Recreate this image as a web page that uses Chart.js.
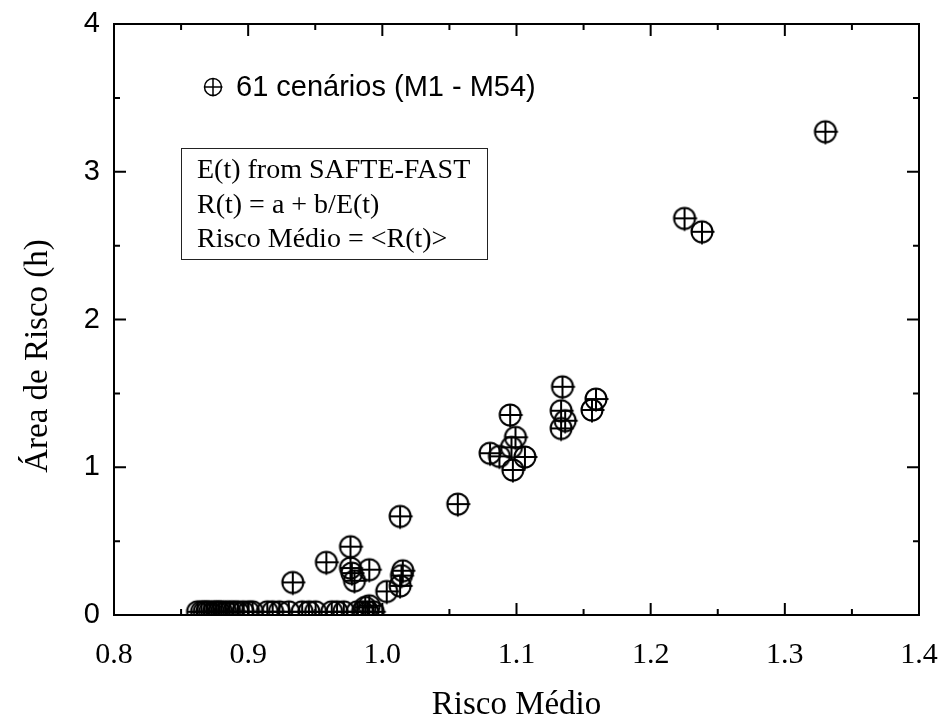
<!DOCTYPE html>
<html>
<head>
<meta charset="utf-8">
<script src="https://cdn.jsdelivr.net/npm/chart.js@4.4.1/dist/chart.umd.min.js"></script>
<style>
  html, body { margin: 0; padding: 0; background: #fff; }
</style>
</head>
<body>
<canvas id="chart-scatter" width="944" height="727"></canvas>
<script>
/* Risco Medio vs Area de Risco */
var riscoMedio = [
    1.331, 1.226, 1.239,
    1.135, 1.134, 1.137, 1.134, 1.160, 1.157,
    1.096, 1.100, 1.097, 1.081, 1.088, 1.107, 1.098, 1.057,
    1.014, 0.977, 0.959, 0.934, 0.977, 0.978, 0.980, 0.991, 1.004, 1.016, 1.015, 1.014, 0.991, 0.988,
    0.863, 0.866, 0.868, 0.870, 0.872, 0.875, 0.877, 0.879, 0.881, 0.884,
    0.887, 0.890, 0.893, 0.897, 0.901, 0.904, 0.915, 0.919, 0.924, 0.931,
    0.941, 0.946, 0.951, 0.963, 0.967, 0.972, 0.982, 0.986, 0.990, 0.994
];
var areaRisco = [
    3.264, 2.678, 2.587,
    1.538, 1.376, 1.308, 1.256, 1.455, 1.381,
    1.347, 1.196, 1.128, 1.088, 1.067, 1.063, 0.975, 0.744,
    0.661, 0.456, 0.350, 0.214, 0.311, 0.277, 0.225, 0.300, 0.153, 0.293, 0.260, 0.190, 0.056, 0.045,
    0.015, 0.015, 0.015, 0.015, 0.015, 0.015, 0.015, 0.015, 0.015, 0.015,
    0.015, 0.015, 0.015, 0.015, 0.015, 0.015, 0.015, 0.015, 0.015, 0.015,
    0.015, 0.015, 0.015, 0.015, 0.015, 0.015, 0.015, 0.015, 0.015, 0.015
];
var xTickLabels = ['0.8', '0.9', '1.0', '1.1', '1.2', '1.3', '1.4'];
var yTickLabels = ['0', '1', '2', '3', '4'];
var xTitle = 'Risco Médio';
var yTitle = 'Área de Risco (h)';
var legendLabel = '61 cenários (M1 - M54)';
var noteLines = ['E(t) from SAFTE-FAST', 'R(t) = a + b/E(t)', 'Risco Médio = <R(t)>'];

var serif = '"Liberation Serif", "Times New Roman", serif';
var sans = '"Liberation Sans", Arial, sans-serif';

function drawCrossCircle(ctx, cx, cy, r, ext, lw) {
    ctx.save();
    ctx.strokeStyle = '#000';
    ctx.lineWidth = lw;
    ctx.beginPath();
    ctx.arc(cx, cy, r, 0, Math.PI * 2);
    ctx.moveTo(cx - r, cy);
    ctx.lineTo(cx + r + ext, cy);
    ctx.moveTo(cx, cy - r);
    ctx.lineTo(cx, cy + r + ext);
    ctx.stroke();
    ctx.restore();
}

var marker = document.createElement('canvas');
marker.width = 30;
marker.height = 30;
drawCrossCircle(marker.getContext('2d'), 14, 14, 10.5, 2, 2);

var points = riscoMedio.map(function (x, i) { return {x: x, y: areaRisco[i]}; });

function noScalePadding(scale) {
    scale.paddingLeft = 0;
    scale.paddingRight = 0;
    scale.paddingTop = 0;
    scale.paddingBottom = 0;
}

var framePlugin = {
    id: 'frame',
    afterDatasetsDraw: function (chart) {
        var ctx = chart.ctx, a = chart.chartArea;
        var xs = chart.scales.x, ys = chart.scales.y;
        ctx.save();
        ctx.strokeStyle = '#000';
        ctx.lineWidth = 2;
        ctx.strokeRect(a.left, a.top, a.right - a.left, a.bottom - a.top);
        ctx.beginPath();
        var i, v, p, len;
        for (i = 0; i <= 12; i++) {
            v = 0.8 + i * 0.05;
            p = xs.getPixelForValue(v);
            len = (i % 2 === 0) ? 12 : 6;
            ctx.moveTo(p, a.bottom); ctx.lineTo(p, a.bottom - len);
            ctx.moveTo(p, a.top); ctx.lineTo(p, a.top + len);
        }
        for (i = 0; i <= 8; i++) {
            v = i * 0.5;
            p = ys.getPixelForValue(v);
            len = (i % 2 === 0) ? 12 : 6;
            ctx.moveTo(a.left, p); ctx.lineTo(a.left + len, p);
            ctx.moveTo(a.right, p); ctx.lineTo(a.right - len, p);
        }
        ctx.stroke();

        // y axis title
        ctx.fillStyle = '#000';
        ctx.save();
        ctx.translate(38, 356);
        ctx.rotate(-Math.PI / 2);
        ctx.font = '33px ' + serif;
        ctx.textAlign = 'center';
        ctx.textBaseline = 'middle';
        ctx.fillText(yTitle, 0, 0);
        ctx.restore();

        // legend
        drawCrossCircle(ctx, 213, 87, 8.5, 1, 1.5);
        ctx.font = '29px ' + sans;
        ctx.textBaseline = 'middle';
        ctx.textAlign = 'left';
        ctx.fillText(legendLabel, 236, 88);

        // note box
        ctx.lineWidth = 1;
        ctx.strokeStyle = '#222';
        ctx.strokeRect(181.5, 148.5, 306, 111);
        ctx.font = '28px ' + serif;
        ctx.textBaseline = 'alphabetic';
        for (i = 0; i < noteLines.length; i++) {
            ctx.fillText(noteLines[i], 197, 178 + i * 34.5);
        }
        ctx.restore();
    }
};

var scatterCanvas = document.getElementById('chart-scatter').getContext('2d');
var scatterChart = new Chart(scatterCanvas, {
    type: 'scatter',
    data: {
        datasets: [{
            label: legendLabel,
            data: points,
            pointStyle: marker,
            pointRadius: 11,
            pointHoverRadius: 11,
            clip: 0
        }]
    },
    options: {
        responsive: false,
        animation: false,
        events: [],
        layout: {
            padding: {left: 0, top: 24, right: 25, bottom: 0}
        },
        plugins: {
            legend: {display: false},
            tooltip: {enabled: false}
        },
        scales: {
            x: {
                type: 'linear',
                min: 0.8,
                max: 1.4,
                afterFit: function (scale) { scale.height = 112; noScalePadding(scale); },
                afterBuildTicks: function (scale) {
                    scale.ticks = xTickLabels.map(function (t) { return {value: parseFloat(t)}; });
                },
                grid: {display: false, drawTicks: false},
                border: {display: false},
                ticks: {
                    color: '#000',
                    padding: 22,
                    maxRotation: 0,
                    font: {family: serif, size: 30},
                    callback: function (value, index) { return xTickLabels[index]; }
                },
                title: {
                    display: true,
                    text: xTitle,
                    color: '#000',
                    font: {family: serif, size: 33},
                    padding: {top: 0, bottom: 2}
                }
            },
            y: {
                type: 'linear',
                min: 0,
                max: 4,
                afterFit: function (scale) { scale.width = 114; noScalePadding(scale); },
                afterBuildTicks: function (scale) {
                    scale.ticks = yTickLabels.map(function (t) { return {value: parseFloat(t)}; });
                },
                grid: {display: false, drawTicks: false},
                border: {display: false},
                ticks: {
                    color: '#000',
                    padding: 14,
                    font: {family: sans, size: 29},
                    callback: function (value, index) { return yTickLabels[index]; }
                },
                title: {display: false, text: yTitle}
            }
        }
    },
    plugins: [framePlugin]
});
</script>
</body>
</html>
